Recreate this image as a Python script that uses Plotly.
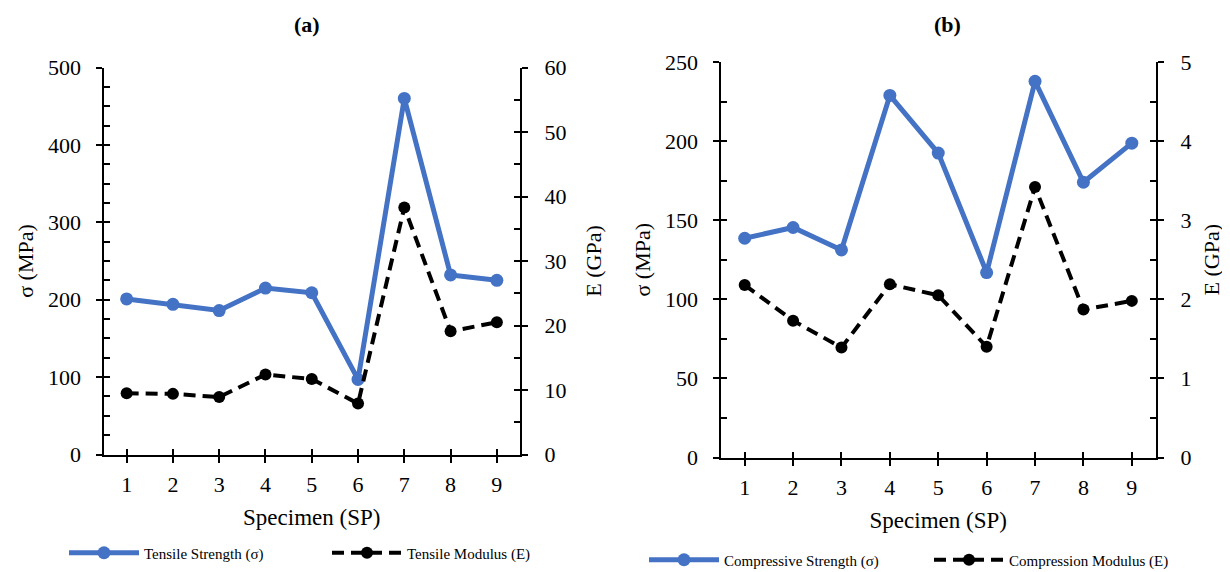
import plotly.graph_objects as go

# ---------------- data ----------------
specimens = [1, 2, 3, 4, 5, 6, 7, 8, 9]
specimen_labels = ["1", "2", "3", "4", "5", "6", "7", "8", "9"]

tensile_strength = [201, 194, 186, 215, 209, 97, 460, 232, 225]          # MPa
tensile_modulus = [9.5, 9.4, 8.9, 12.4, 11.7, 7.9, 38.3, 19.1, 20.5]     # GPa

compressive_strength = [138.6, 145.4, 131.2, 228.9, 192.4, 116.9, 237.8, 174.0, 198.7]  # MPa
compression_modulus = [2.18, 1.73, 1.39, 2.19, 2.05, 1.40, 3.42, 1.87, 1.98]           # GPa

# ---------------- style ----------------
W, H = 1230, 572
OFF = 8  # page offset of the plot div (default body margin)
FONT = "Liberation Serif, Times New Roman, serif"
BLUE = "#4472C4"
TICK_FS = 22
XTITLE_FS = 23
LEG_FS = 15


def px_x(p):
    return (p - OFF) / W


def px_y(p):
    return (H - (p - OFF)) / H


dom_xa = [px_x(103.5), px_x(520)]
dom_ya = [px_y(454.5), px_y(67.5)]
dom_xb = [px_x(720.5), px_x(1156)]
dom_yb = [px_y(457.5), px_y(62)]

fig = go.Figure()

fig.add_trace(go.Scatter(
    x=specimens, y=tensile_strength, name="Tensile Strength (σ)",
    mode="lines+markers", line=dict(color=BLUE, width=5),
    marker=dict(color=BLUE, size=13), xaxis="x", yaxis="y", legend="legend"))
fig.add_trace(go.Scatter(
    x=specimens, y=tensile_modulus, name="Tensile Modulus (E)",
    mode="lines+markers", line=dict(color="black", width=4, dash="12px,7px"),
    marker=dict(color="black", size=12), xaxis="x", yaxis="y2", legend="legend"))
fig.add_trace(go.Scatter(
    x=specimens, y=compressive_strength, name="Compressive Strength (σ)",
    mode="lines+markers", line=dict(color=BLUE, width=5),
    marker=dict(color=BLUE, size=13), xaxis="x2", yaxis="y3", legend="legend2"))
fig.add_trace(go.Scatter(
    x=specimens, y=compression_modulus, name="Compression Modulus (E)",
    mode="lines+markers", line=dict(color="black", width=4, dash="12px,7px"),
    marker=dict(color="black", size=12), xaxis="x2", yaxis="y4", legend="legend2"))

# empty helper traces so that the overlay (tick-only) axes get drawn
for xa, ya in [("x3", "y"), ("x", "y5"), ("x", "y6"),
               ("x4", "y3"), ("x2", "y7"), ("x2", "y8")]:
    fig.add_trace(go.Scatter(x=[], y=[], xaxis=xa, yaxis=ya, showlegend=False,
                             hoverinfo="skip", mode="lines"))

tickfont = dict(family=FONT, size=TICK_FS, color="black")
titlefont = dict(family=FONT, size=TICK_FS, color="black")
xtitlefont = dict(family=FONT, size=XTITLE_FS, color="black")


def xmain(domain, anchor):
    return dict(domain=domain, anchor=anchor, range=[0.5, 9.5], automargin=False,
                tickmode="array", tickvals=specimens, ticktext=specimen_labels,
                showline=True, linecolor="black", linewidth=2, mirror=False,
                ticks="outside", ticklen=6, tickwidth=2, tickcolor="black",
                showgrid=False, zeroline=False, tickfont=tickfont,
                ticklabelstandoff=3,
                title=dict(text="Specimen (SP)", font=xtitlefont, standoff=13))


def xover(overlay, anchor):
    return dict(overlaying=overlay, anchor=anchor, range=[0.5, 9.5], automargin=False,
                tickmode="array", tickvals=specimens, showticklabels=False,
                ticks="inside", ticklen=6, tickwidth=2, tickcolor="black",
                showline=False, showgrid=False, zeroline=False)


def ymain(domain, anchor, side, rng, dtick, title, standoff, tstandoff, overlay=None):
    d = dict(domain=domain, anchor=anchor, side=side, range=rng, dtick=dtick,
             tick0=0, automargin=False,
             showline=True, linecolor="black", linewidth=2,
             ticks="outside", ticklen=6, tickwidth=2, tickcolor="black",
             showgrid=False, zeroline=False, tickfont=tickfont,
             ticklabelstandoff=standoff,
             title=dict(text=title, font=titlefont, standoff=tstandoff))
    if overlay:
        d["overlaying"] = overlay
    return d


def yover(overlay, anchor, side, rng, dtick, mdtick):
    return dict(overlaying=overlay, anchor=anchor, side=side, range=rng,
                dtick=dtick, tick0=0, showticklabels=False, automargin=False,
                ticks="inside", ticklen=6, tickwidth=2, tickcolor="black",
                minor=dict(dtick=mdtick, tick0=0, ticks="inside", ticklen=6,
                           tickwidth=1.5, tickcolor="black"),
                showline=False, showgrid=False, zeroline=False)


fig.update_layout(
    template="none",
    width=W, height=H,
    margin=dict(l=0, r=0, t=0, b=0, pad=0),
    paper_bgcolor="white", plot_bgcolor="white",
    font=dict(family=FONT, color="black"),
    showlegend=True,
    xaxis=xmain(dom_xa, "y"),
    yaxis=ymain(dom_ya, "x", "left", [0, 500], 100, "σ (MPa)", 10, 8),
    yaxis2=ymain(dom_ya, "x", "right", [0, 60], 10, "E (GPa)", 12, 20, overlay="y"),
    xaxis2=xmain(dom_xb, "y3"),
    yaxis3=ymain(dom_yb, "x2", "left", [0, 250], 50, "σ (MPa)", 10, 8),
    yaxis4=ymain(dom_yb, "x2", "right", [0, 5], 1, "E (GPa)", 12, 13, overlay="y3"),
    # overlay axes that give the "cross" style tick marks
    xaxis3=xover("x", "y"),
    yaxis5=yover("y", "x", "left", [0, 500], 100, 25),
    yaxis6=yover("y", "x", "right", [0, 60], 10, 5),
    xaxis4=xover("x2", "y3"),
    yaxis7=yover("y3", "x2", "left", [0, 250], 50, 25),
    yaxis8=yover("y3", "x2", "right", [0, 5], 1, 0.5),
    legend=dict(orientation="h", x=px_x(64), y=px_y(553), xanchor="left",
                yanchor="middle", font=dict(family=FONT, size=LEG_FS, color="black"),
                bgcolor="rgba(0,0,0,0)", itemwidth=70, entrywidth=178),
    legend2=dict(orientation="h", x=px_x(644), y=px_y(560), xanchor="left",
                 yanchor="middle", font=dict(family=FONT, size=LEG_FS, color="black"),
                 bgcolor="rgba(0,0,0,0)", itemwidth=70, entrywidth=200),
    annotations=[
        dict(text="<b>(a)</b>", x=px_x(307), y=px_y(24), xref="paper", yref="paper",
             xanchor="center", yanchor="middle", showarrow=False,
             font=dict(family=FONT, size=22, color="black")),
        dict(text="<b>(b)</b>", x=px_x(947), y=px_y(24), xref="paper", yref="paper",
             xanchor="center", yanchor="middle", showarrow=False,
             font=dict(family=FONT, size=22, color="black")),
    ],
)

fig.write_html("out.html")
